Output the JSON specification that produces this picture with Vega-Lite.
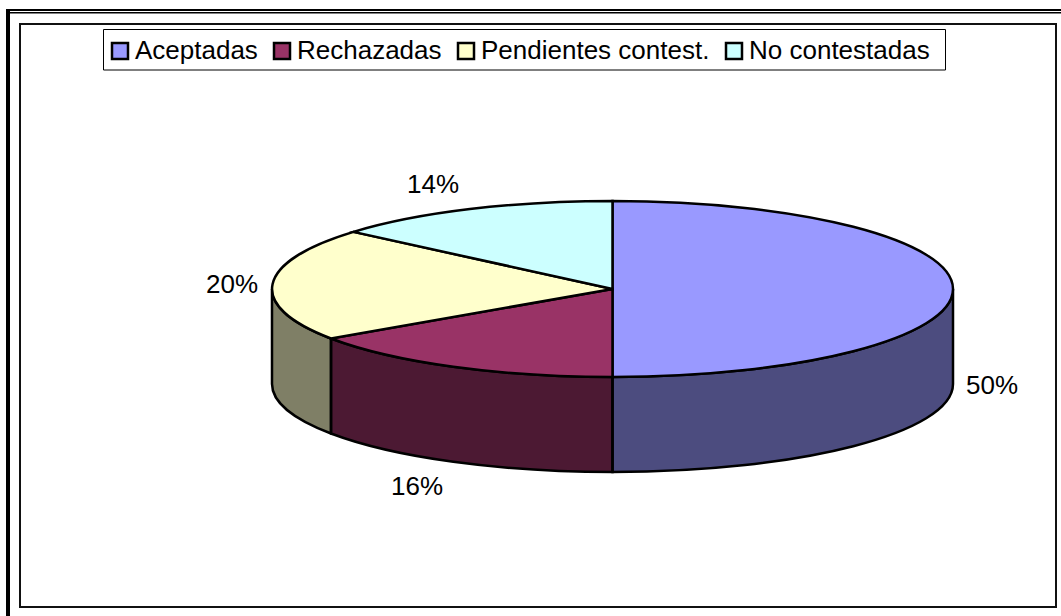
{"$schema":"https://vega.github.io/schema/vega-lite/v6.json","width":1036,"height":583,"autosize":{"type":"none"},"padding":{"left":20,"top":24,"right":5,"bottom":9},"background":"white","config":{"view":{"stroke":"#111","strokeWidth":2},"font":"Liberation Sans"},"data":{"values":[{"Estado":"Aceptadas","Porcentaje":0.5},{"Estado":"Rechazadas","Porcentaje":0.16},{"Estado":"Pendientes contest.","Porcentaje":0.2},{"Estado":"No contestadas","Porcentaje":0.14}]},"encoding":{"x":{"datum":592.5,"type":"quantitative","scale":{"domain":[0,1036],"nice":false,"zero":false},"axis":null},"y":{"datum":265,"type":"quantitative","scale":{"domain":[0,583],"nice":false,"zero":false,"reverse":true},"axis":null}},"layer":[{"data":{"values":[{"Marco":"borde"}]},"mark":{"type":"point","filled":true,"color":"black","opacity":1,"size":4,"shape":"M-606.5,-280L448.5,-280L448.5,-278L-602.5,-278L-602.5,-277L448.5,-277L448.5,-275.5L-602.5,-275.5L-602.5,327L-606.5,327Z"}},{"data":{"values":[{"Marco":"leyenda"}]},"mark":{"type":"point","filled":false,"stroke":"black","strokeWidth":1,"opacity":1,"size":4,"shape":"M-509,-259.5L333,-259.5L333,-219L-509,-219Z"}},{"transform":[{"filter":"datum.Estado !== 'No contestadas'"}],"mark":{"type":"point","filled":true,"opacity":1,"size":4},"encoding":{"fill":{"field":"Estado","type":"nominal"},"shape":{"field":"Estado","type":"nominal","legend":null,"scale":{"domain":["Aceptadas","Rechazadas","Pendientes contest."],"range":["M0,88L0,183A340.5,88 0 0 0 340.5,95L340.5,0A340.5,88 0 0 1 0,88Z","M0,88A340.5,88 0 0 1 -281.5,49.5L-281.5,144.5A340.5,88 0 0 0 0,183Z","M-281.5,49.5A340.5,88 0 0 1 -340.5,0L-340.5,95A340.5,88 0 0 0 -281.5,144.5Z"]}}}},{"transform":[{"filter":"datum.Estado !== 'No contestadas'"}],"mark":{"type":"point","fill":"black","fillOpacity":0.5,"strokeOpacity":1,"size":4,"stroke":"black","strokeWidth":2.5},"encoding":{"shape":{"field":"Estado","type":"nominal","legend":null,"scale":{"domain":["Aceptadas","Rechazadas","Pendientes contest."],"range":["M0,88L0,183A340.5,88 0 0 0 340.5,95L340.5,0A340.5,88 0 0 1 0,88Z","M0,88A340.5,88 0 0 1 -281.5,49.5L-281.5,144.5A340.5,88 0 0 0 0,183Z","M-281.5,49.5A340.5,88 0 0 1 -340.5,0L-340.5,95A340.5,88 0 0 0 -281.5,144.5Z"]}}}},{"mark":{"type":"point","filled":true,"opacity":1,"size":4,"stroke":"black","strokeWidth":2.5},"encoding":{"fill":{"field":"Estado","type":"nominal","scale":{"domain":["Aceptadas","Rechazadas","Pendientes contest.","No contestadas"],"range":["#9999FF","#993366","#FFFFCC","#CCFFFF"]},"legend":{"title":null,"orient":"none","legendX":87,"legendY":14,"direction":"horizontal","columns":4,"symbolType":"square","symbolSize":256,"symbolStrokeColor":"black","symbolStrokeWidth":2.5,"symbolOpacity":1,"labelFont":"Liberation Sans","labelFontSize":26,"labelColor":"black","labelOffset":2,"columnPadding":11,"padding":0,"labelLimit":400}},"shape":{"field":"Estado","type":"nominal","legend":null,"scale":{"domain":["Aceptadas","Rechazadas","Pendientes contest.","No contestadas"],"range":["M0,0L0,-88A340.5,88 0 0 1 0,88Z","M0,0L0,88A340.5,88 0 0 1 -281.5,49.5Z","M0,0L-281.5,49.5A340.5,88 0 0 1 -259,-57.1Z","M0,0L-259,-57.1A340.5,88 0 0 1 0,-88Z"]}}}},{"transform":[{"filter":"datum.Estado === 'Aceptadas'"}],"mark":{"type":"text","font":"Liberation Sans","fontSize":26,"color":"black","dx":379.5,"dy":97},"encoding":{"text":{"field":"Porcentaje","type":"quantitative","format":".0%"}}},{"transform":[{"filter":"datum.Estado === 'Rechazadas'"}],"mark":{"type":"text","font":"Liberation Sans","fontSize":26,"color":"black","dx":-195.5,"dy":198},"encoding":{"text":{"field":"Porcentaje","type":"quantitative","format":".0%"}}},{"transform":[{"filter":"datum.Estado === 'Pendientes contest.'"}],"mark":{"type":"text","font":"Liberation Sans","fontSize":26,"color":"black","dx":-380.5,"dy":-4},"encoding":{"text":{"field":"Porcentaje","type":"quantitative","format":".0%"}}},{"transform":[{"filter":"datum.Estado === 'No contestadas'"}],"mark":{"type":"text","font":"Liberation Sans","fontSize":26,"color":"black","dx":-179.5,"dy":-104},"encoding":{"text":{"field":"Porcentaje","type":"quantitative","format":".0%"}}}],"resolve":{"scale":{"shape":"independent"}}}
